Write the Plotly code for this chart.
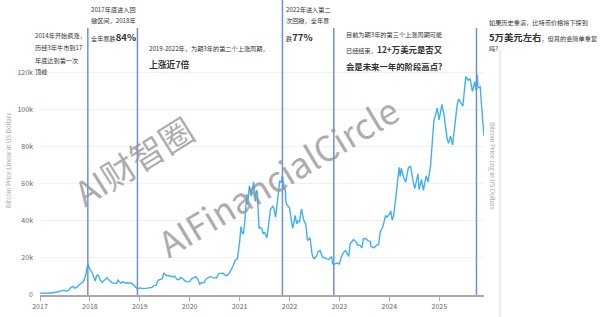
import plotly.graph_objects as go

# ---- data ----
dates = [
    "2017-01-01","2017-01-15","2017-02-01","2017-02-15","2017-03-01","2017-03-15","2017-04-01","2017-04-15",
    "2017-05-01","2017-05-15","2017-06-01","2017-06-15","2017-07-01","2017-07-15","2017-08-01","2017-08-15",
    "2017-09-01","2017-09-15","2017-10-01","2017-10-15","2017-11-01","2017-11-15","2017-12-01","2017-12-17",
    "2018-01-01","2018-01-15","2018-02-01","2018-02-08","2018-02-20","2018-03-05","2018-03-15","2018-04-01",
    "2018-04-15","2018-05-05","2018-05-15","2018-06-01","2018-06-15","2018-07-01","2018-07-15","2018-07-25",
    "2018-08-01","2018-08-15","2018-09-01","2018-09-15","2018-10-01","2018-10-15","2018-11-01","2018-11-15",
    "2018-12-01","2018-12-15",
    "2019-01-01","2019-01-15","2019-02-01","2019-02-15","2019-03-01","2019-03-15","2019-04-01","2019-04-15",
    "2019-05-01","2019-05-15","2019-06-01","2019-06-15","2019-06-26","2019-07-05","2019-07-15","2019-08-01",
    "2019-08-15","2019-09-01","2019-09-15","2019-10-01","2019-10-15","2019-10-26","2019-11-05","2019-11-15",
    "2019-12-01","2019-12-15",
    "2020-01-01","2020-01-15","2020-02-01","2020-02-15","2020-03-01","2020-03-14","2020-03-25","2020-04-05",
    "2020-04-15","2020-05-01","2020-05-15","2020-06-01","2020-06-15","2020-07-01","2020-07-15","2020-08-01",
    "2020-08-15","2020-09-01","2020-09-15","2020-10-01","2020-10-15","2020-11-01","2020-11-15","2020-12-01",
    "2020-12-15",
    "2021-01-01","2021-01-10","2021-01-20","2021-01-29","2021-02-08","2021-02-15","2021-02-22","2021-03-01",
    "2021-03-13","2021-03-25","2021-04-05","2021-04-14","2021-04-25","2021-05-03","2021-05-10","2021-05-16",
    "2021-05-23","2021-06-01","2021-06-12","2021-06-22","2021-07-01","2021-07-20","2021-08-01","2021-08-15",
    "2021-09-01","2021-09-10","2021-09-21","2021-10-01","2021-10-12","2021-10-21","2021-11-01","2021-11-10",
    "2021-11-20","2021-12-01","2021-12-06","2021-12-15",
    "2022-01-01","2022-01-10","2022-01-24","2022-02-01","2022-02-10","2022-02-24","2022-03-05","2022-03-15",
    "2022-03-29","2022-04-15","2022-04-30","2022-05-12","2022-05-31","2022-06-13","2022-06-20","2022-07-01",
    "2022-07-15","2022-07-30","2022-08-13","2022-08-31","2022-09-13","2022-09-30","2022-10-15","2022-11-05",
    "2022-11-12","2022-11-21","2022-12-01","2022-12-15","2022-12-31",
    "2023-01-15","2023-01-31","2023-02-15","2023-03-10","2023-03-20","2023-04-14","2023-04-30","2023-05-15",
    "2023-06-01","2023-06-15","2023-06-25","2023-07-13","2023-07-31","2023-08-15","2023-08-20","2023-09-11",
    "2023-09-30","2023-10-15","2023-10-26","2023-11-15","2023-12-05","2023-12-15",
    "2024-01-01","2024-01-11","2024-01-23","2024-02-01","2024-02-15","2024-02-28","2024-03-13","2024-03-21",
    "2024-03-28","2024-04-15","2024-04-30","2024-05-20","2024-06-05","2024-06-24","2024-07-05","2024-07-29",
    "2024-08-06","2024-08-24","2024-09-06","2024-09-27","2024-10-10","2024-10-29","2024-11-11","2024-11-22",
    "2024-12-05","2024-12-17","2024-12-30",
    "2025-01-20","2025-02-03","2025-02-28","2025-03-10","2025-03-24","2025-04-08","2025-04-25","2025-05-12",
    "2025-05-22","2025-06-05","2025-06-22","2025-07-14","2025-07-31","2025-08-14","2025-08-31","2025-09-18",
    "2025-09-26","2025-10-06","2025-10-12","2025-10-27","2025-11-04","2025-11-14","2025-11-24",
]
prices = [
    1000, 850, 980, 1010, 1200, 1230, 1080, 1180,
    1420, 1750, 2350, 2450, 2480, 2000, 2700, 4100,
    4600, 3700, 4300, 5600, 6600, 7300, 10500, 17000,
    13800, 12500, 9200, 7600, 10500, 10800, 8300, 6900,
    7900, 9300, 8500, 7500, 6500, 6400, 6300, 8100,
    7600, 6400, 7100, 6500, 6600, 6600, 6350, 5600,
    4100, 3300,
    3800, 3600, 3450, 3600, 3850, 3950, 4150, 5100,
    5300, 7900, 8500, 8800, 11900, 10900, 10500, 10400,
    10300, 9700, 10200, 8300, 8350, 9400, 9200, 8500,
    7400, 7100,
    7200, 8700, 9300, 9900, 8600, 5800, 6600, 6800,
    6700, 8700, 9300, 10000, 9400, 9100, 9200, 11600,
    11800, 11800, 10800, 10600, 11400, 13700, 15900, 19000,
    19400,
    29000, 37000, 33500, 33000, 40000, 47500, 54500, 49000,
    59000, 53500, 58000, 61000, 50500, 56500, 56000, 46000,
    36000, 36500, 36000, 33000, 34000, 31000, 39500, 46500,
    48000, 46500, 42000, 47500, 56000, 61500, 61000, 64500,
    58000, 57000, 50000, 48500,
    47000, 42000, 36000, 38500, 43000, 38500, 40000, 39500,
    46500, 40500, 38000, 29500, 31000, 23000, 20500, 19700,
    20700, 23500, 24000, 20300, 20300, 19500, 19200, 20800,
    16800, 16400, 17000, 17300, 16700,
    20500, 23000, 24000, 20800, 27500, 30000, 29000, 27000,
    26800, 25500, 30300, 30500, 29200, 29000, 26200, 25500,
    27000, 27200, 33800, 37000, 43000, 42000,
    43500, 45500, 40500, 42500, 51000, 61000, 69000, 64000,
    68500, 63500, 61000, 69000, 69500, 61000, 57500, 65500,
    57000, 62500, 56500, 64500, 61000, 70000, 86000, 94000,
    97500, 101000, 94500,
    103000, 98000, 84000, 82000, 86000, 81000, 93500, 103000,
    106000, 104000, 102000, 118000, 116000, 117000, 110000, 115500,
    110500, 119000, 112000, 112500, 103000, 95000, 86000,
]
y_tickvals = [0, 20000, 40000, 60000, 80000, 100000, 120000]
y_ticktext = ["0", "20k", "40k", "60k", "80k", "100k", "120k"]
x_tickvals = ["2017-01-01","2018-01-01","2019-01-01","2020-01-01","2021-01-01",
              "2022-01-01","2023-01-01","2024-01-01","2025-01-01"]
x_ticktext = ["2017","2018","2019","2020","2021","2022","2023","2024","2025"]
cycle_marks = ["2017-12-17", "2018-12-15", "2021-11-10", "2022-11-21", "2025-09-30"]

FONT = "Noto Sans CJK SC"

# ---- pixel helpers (plot area: x 40..484, y 28..295) ----
L, R, T, B = 40, 484, 28, 295
def px(x):
    return (x - L) / (R - L)
def py(y):
    return (B - y) / (B - T)

fig = go.Figure()
fig.add_trace(go.Scatter(
    x=dates, y=prices, mode="lines",
    line=dict(color="#3fb0f7", width=1.4),
    hoverinfo="skip", showlegend=False,
))

shapes = []
for i, d in enumerate(cycle_marks):
    shapes.append(dict(type="line", xref="x", yref="paper", x0=d, x1=d,
                       y0=0, y1=(py(0) if i == 2 else 1.0),
                       line=dict(color="#6f8fdc", width=1.5)))
# light separator on the right
shapes.append(dict(type="line", xref="paper", yref="paper",
                   x0=px(500), x1=px(500), y0=py(50), y1=py(320),
                   line=dict(color="#ececec", width=2.5)))

REG = 6.2
BIG = 8.8
def b(t, s=BIG):
    return f"<span style='font-size:{s}px'><b>{t}</b></span>"

lines = [
    (34, 36, "2014年开始疯涨，"),
    (34, 48, "历经3年牛市到17"),
    (34, 61, "年底达到第一次"),
    (34, 72, "顶峰"),
    (90, 9, "2017年底进入回"),
    (90, 21, "撤区间，2018年"),
    (90, 37, "全年暴跌" + b("84%", 9.5)),
    (148, 49, "2019-2022年，为期3年的第二个上涨周期，"),
    (148, 64, b("上涨近7倍")),
    (285, 9, "2022年进入第二"),
    (285, 21, "次回撤，全年暴"),
    (285, 37, "跌" + b("77%", 9.5)),
    (345, 34, "目前为期3年的第三个上涨周期可能"),
    (345, 49, "已经结束，" + b("12+万美元是否又", 8.4)),
    (345, 66, b("会是未来一年的阶段高点?", 8.4)),
    (488, 23, "如果历史重演，比特币价格将下探到"),
    (488, 37, b("5万美元左右", 9.4) + "，但真的会简单重复"),
    (488, 49, "吗?"),
]

annotations = []
for x, y, t in lines:
    annotations.append(dict(
        xref="paper", yref="paper", x=px(x - 1.5), y=py(y),
        xanchor="left", yanchor="middle", showarrow=False, text=t,
        font=dict(family=FONT, size=REG, color="#333333"),
    ))

# axis titles
annotations.append(dict(xref="paper", yref="paper", x=px(8), y=py(161),
                        xanchor="center", yanchor="middle", showarrow=False,
                        text="Bitcoin Price Linear in US Dollars", textangle=-90,
                        font=dict(family=FONT, size=6.3, color="#aaaaaa")))
annotations.append(dict(xref="paper", yref="paper", x=px(492), y=py(166),
                        xanchor="center", yanchor="middle", showarrow=False,
                        text="Bitcoin Price Log in US Dollars", textangle=90,
                        font=dict(family=FONT, size=6.3, color="#aaaaaa")))

# watermarks
annotations.append(dict(xref="paper", yref="paper", x=px(133), y=py(160),
                        xanchor="center", yanchor="middle", showarrow=False,
                        text="AI财智圈", textangle=-32,
                        font=dict(family=FONT, size=34, color="rgba(150,150,150,0.78)")))
annotations.append(dict(xref="paper", yref="paper", x=px(277), y=py(175),
                        xanchor="center", yanchor="middle", showarrow=False,
                        text="AIFinancialCircle", textangle=-31,
                        font=dict(family=FONT, size=35, color="rgba(150,150,150,0.78)")))

fig.update_layout(
    width=600, height=317,
    margin=dict(l=L, r=600 - R, t=T, b=317 - B, autoexpand=False),
    paper_bgcolor="white", plot_bgcolor="white",
    shapes=shapes, annotations=annotations,
    font=dict(family=FONT),
    xaxis=dict(
        type="date", range=["2017-01-01", "2025-11-24"],
        tickvals=x_tickvals, ticktext=x_ticktext, automargin=False,
        showgrid=False, zeroline=False,
        showline=True, linecolor="#aaaaaa", linewidth=1.5,
        ticks="outside", ticklen=4, tickcolor="#aaaaaa",
        tickfont=dict(family=FONT, size=7, color="#666666"),
    ),
    yaxis=dict(
        range=[0, 144300], automargin=False,
        tickvals=y_tickvals, ticktext=y_ticktext, ticklabelstandoff=6,
        showgrid=True, gridcolor="#f0f0f0", gridwidth=1,
        zeroline=False, showline=False, ticks="",
        tickfont=dict(family=FONT, size=7, color="#666666"),
    ),
)

fig.write_html("out.html")
